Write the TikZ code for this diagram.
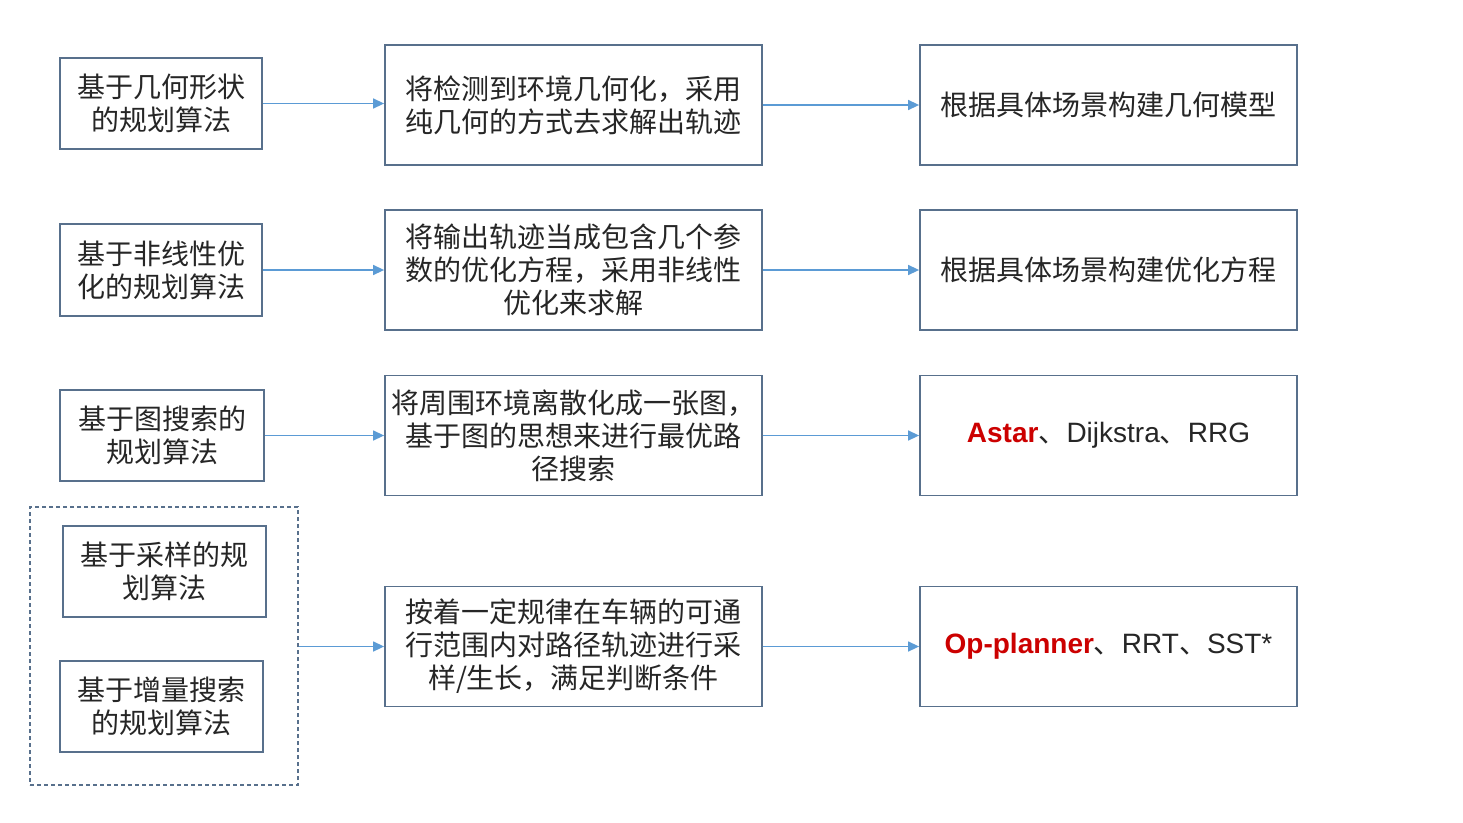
\documentclass[tikz,border=0pt]{standalone}
\usepackage{fontspec}
\setmainfont{Noto Sans CJK SC}
\newfontfamily\lat{Liberation Sans}
\usetikzlibrary{arrows.meta}
\definecolor{boxline}{RGB}{88,112,140}
\definecolor{arrowc}{RGB}{91,155,213}
\definecolor{hired}{RGB}{204,0,0}
\tikzset{
  box/.style={draw=boxline, line width=1.8pt, inner sep=0pt, align=center,
    font=\fontsize{28}{33}\selectfont, text=black!85},
  grpbox/.style={draw=boxline, line width=1.3pt, dashed, dash pattern=on 4pt off 3pt, inner sep=0pt},
  conn/.style={draw=arrowc, line width=1.4pt, -{Triangle[length=11pt,width=10pt]}}
}
\begin{document}
\begin{tikzpicture}[x=1pt,y=-1pt]
\useasboundingbox[fill=white] (0,0) rectangle (1463,822);
% left column
\node[box, minimum width=202pt, minimum height=91pt] (L1) at (161,103.5) {基于几何形状\\的规划算法};
\node[box, minimum width=202pt, minimum height=92pt] (L2) at (161,270) {基于非线性优\\化的规划算法};
\node[box, minimum width=204pt, minimum height=91pt] (L3) at (162,435.5) {基于图搜索的\\规划算法};
\node[box, minimum width=203pt, minimum height=91pt] (L4) at (164.5,571.5) {基于采样的规\\划算法};
\node[box, minimum width=203pt, minimum height=91pt] (L5) at (161.5,706.5) {基于增量搜索\\的规划算法};
\node[grpbox, minimum width=268pt, minimum height=278pt] (G) at (164,646) {};
% middle column
\node[box, minimum width=377pt, minimum height=120pt] (M1) at (573.5,105) {将检测到环境几何化，采用\\纯几何的方式去求解出轨迹};
\node[box, minimum width=377pt, minimum height=120pt] (M2) at (573.5,270) {将输出轨迹当成包含几个参\\数的优化方程，采用非线性\\优化来求解};
\node[box, minimum width=377pt, minimum height=120pt] (M3) at (573.5,435.5) {将周围环境离散化成一张图，\\基于图的思想来进行最优路\\径搜索};
\node[box, minimum width=377pt, minimum height=120pt] (M4) at (573.5,646.5) {按着一定规律在车辆的可通\\行范围内对路径轨迹进行采\\样/生长，满足判断条件};
% right column
\node[box, minimum width=377pt, minimum height=120pt] (R1) at (1108.5,105) {根据具体场景构建几何模型};
\node[box, minimum width=377pt, minimum height=120pt] (R2) at (1108.5,270) {根据具体场景构建优化方程};
\node[box, minimum width=377pt, minimum height=120pt] (R3) at (1108.5,435.5) {{\lat\bfseries\color{hired}Astar}、{\lat Dijkstra}、{\lat RRG}};
\node[box, minimum width=377pt, minimum height=120pt] (R4) at (1108.5,646.5) {{\lat\bfseries\color{hired}Op-planner}、{\lat RRT}、{\lat SST*}};
% connectors
\draw[conn] (L1.east) -- (M1.west |- L1.east);
\draw[conn] (L2.east) -- (M2.west |- L2.east);
\draw[conn] (L3.east) -- (M3.west |- L3.east);
\draw[conn] (G.east |- M4.west) -- (M4.west);
\draw[conn] (M1.east) -- (R1.west);
\draw[conn] (M2.east) -- (R2.west);
\draw[conn] (M3.east) -- (R3.west);
\draw[conn] (M4.east) -- (R4.west);
\end{tikzpicture}
\end{document}
